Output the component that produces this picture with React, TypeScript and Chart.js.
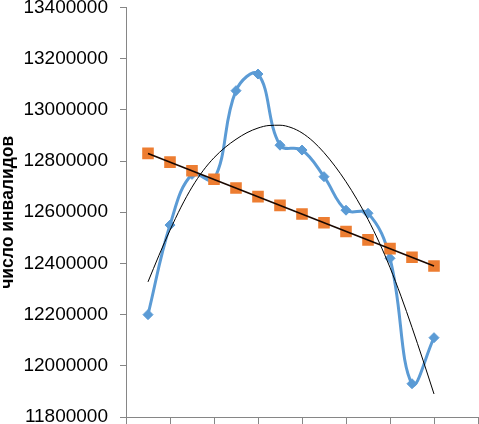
import React, { useEffect, useRef } from 'react';
import { Chart, registerables } from 'chart.js';

Chart.register(...registerables);

// x positions (periods)
const periods = [1, 2, 3, 4, 5, 6, 7, 8, 9, 10, 11, 12, 13, 14];

// blue series: число инвалидов
const invalidCounts = [
  12200000, 12550000, 12748000, 12728000, 13075000, 13140000, 12862000,
  12843000, 12739000, 12608000, 12596000, 12420000, 11930000, 12110000,
];

// orange series (linear forecast)
const forecastCounts = [
  12830000, 12796000, 12762000, 12729000, 12695000, 12661000, 12627000,
  12593000, 12559000, 12525000, 12492000, 12458000, 12424000, 12390000,
];

// black linear trend line endpoints
const linearTrendX = [1, 14];
const linearTrendY = [12830000, 12390000];

// black polynomial trend curve at half steps
const polyTrendX = [
  1, 1.5, 2, 2.5, 3, 3.5, 4, 4.5, 5, 5.5, 6, 6.5, 7, 7.5, 8, 8.5, 9, 9.5,
  10, 10.5, 11, 11.5, 12, 12.5, 13, 13.5, 14,
];
const polyTrendY = [
  12328000, 12432000, 12530000, 12620000, 12698000, 12762000, 12813000,
  12853000, 12885000, 12911000, 12929000, 12939000, 12940000, 12931000,
  12910000, 12877000, 12833000, 12780000, 12719000, 12650000, 12572000,
  12484000, 12384000, 12272000, 12150000, 12022000, 11890000,
];

const yTicks = [
  11800000, 12000000, 12200000, 12400000, 12600000, 12800000, 13000000,
  13200000, 13400000,
];
const xTicks = [0, 2, 4, 6, 8, 10, 12, 14, 16];

const axisTitle = 'число инвалидов';

export default function App() {
  const ref = useRef<HTMLCanvasElement>(null);

  useEffect(() => {
    document.body.style.margin = '0';
    const canvas = ref.current;
    if (!canvas) return;
    const chart = new Chart(canvas, {
      type: 'scatter',
      data: {
        datasets: [
          {
            label: 'poly',
            data: polyTrendX.map((x, i) => ({ x, y: polyTrendY[i] })),
            showLine: true,
            borderColor: '#000000',
            borderWidth: 1,
            pointRadius: 0,
            cubicInterpolationMode: 'monotone',
            order: 0,
          },
          {
            label: 'linear',
            data: linearTrendX.map((x, i) => ({ x, y: linearTrendY[i] })),
            showLine: true,
            borderColor: '#1a0800',
            borderWidth: 1.6,
            pointRadius: 0,
            order: 1,
          },
          {
            label: 'forecast',
            data: periods.map((x, i) => ({ x, y: forecastCounts[i] })),
            showLine: false,
            pointStyle: 'rect',
            pointRadius: 8.2,
            pointBackgroundColor: '#ED7D31',
            pointBorderColor: '#ED7D31',
            pointBorderWidth: 0,
            order: 2,
          },
          {
            label: 'invalids',
            data: periods.map((x, i) => ({ x, y: invalidCounts[i] })),
            showLine: true,
            tension: 0.4,
            borderColor: '#5B9BD5',
            borderWidth: 3,
            pointStyle: 'rectRot',
            pointRadius: 5,
            pointBackgroundColor: '#5B9BD5',
            pointBorderColor: '#5B9BD5',
            pointBorderWidth: 1,
            order: 3,
          },
        ],
      },
      options: {
        responsive: false,
        animation: false,
        devicePixelRatio: 1,
        layout: { autoPadding: false, padding: { top: 7.5, right: 1, left: 0, bottom: 0 } },
        plugins: {
          legend: { display: false },
          tooltip: { enabled: false },
        },
        scales: {
          x: {
            type: 'linear',
            min: 0,
            max: 16,
            afterBuildTicks: (s: any) => {
              s.ticks = xTicks.map((v) => ({ value: v }));
            },
            ticks: { display: false },
            grid: {
              drawOnChartArea: false,
              drawTicks: true,
              tickLength: 7,
              color: '#868686',
            },
            border: { display: true, color: '#868686', width: 1 },
            afterFit: (s: any) => {
              s.height = 7;
              s.paddingLeft = 0;
              s.paddingRight = 0;
            },
          },
          y: {
            type: 'linear',
            min: 11800000,
            max: 13400000,
            afterBuildTicks: (s: any) => {
              s.ticks = yTicks.map((v) => ({ value: v }));
            },
            ticks: {
              padding: 12,
              color: '#000000',
              font: { family: 'Liberation Sans', size: 19 },
              callback: (v: any) => String(v),
            },
            grid: {
              drawOnChartArea: false,
              drawTicks: true,
              tickLength: 6,
              color: '#868686',
            },
            border: { display: true, color: '#868686', width: 1 },
            title: {
              display: true,
              text: axisTitle,
              color: '#000000',
              font: { family: 'Liberation Sans', size: 17.5, weight: 'bold', lineHeight: 1 },
              padding: { top: -1, bottom: 0 },
            },
            afterFit: (s: any) => {
              s.width = 126;
              s.paddingTop = 0;
              s.paddingBottom = 0;
            },
          },
        },
      },
    } as any);
    return () => chart.destroy();
  }, []);

  return (
    <div style={{ width: 479, height: 424 }}>
      <canvas ref={ref} width={479} height={424} style={{ display: 'block' }} />
    </div>
  );
}
